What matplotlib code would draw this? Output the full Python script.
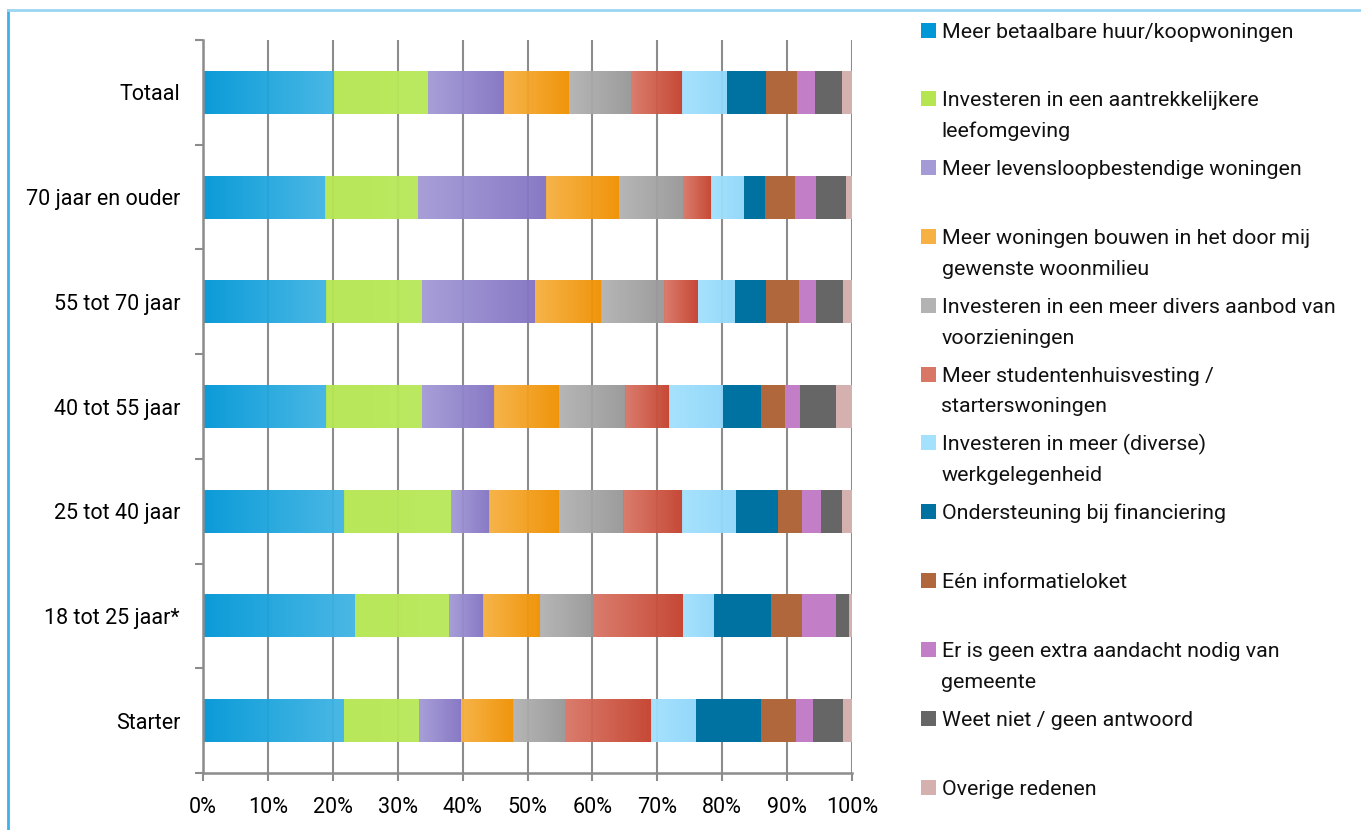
import numpy as np
import matplotlib
matplotlib.use("Agg")
import matplotlib.pyplot as plt
from matplotlib import font_manager
from matplotlib.colors import LinearSegmentedColormap
from matplotlib.lines import Line2D
from matplotlib.patches import Rectangle

categories = ["Totaal", "70 jaar en ouder", "55 tot 70 jaar", "40 tot 55 jaar",
              "25 tot 40 jaar", "18 tot 25 jaar*", "Starter"]

series_names = [
    "Meer betaalbare huur/koopwoningen",
    "Investeren in een aantrekkelijkere\nleefomgeving",
    "Meer levensloopbestendige woningen",
    "Meer woningen bouwen in het door mij\ngewenste woonmilieu",
    "Investeren in een meer divers aanbod van\nvoorzieningen",
    "Meer studentenhuisvesting /\nstarterswoningen",
    "Investeren in meer (diverse)\nwerkgelegenheid",
    "Ondersteuning bij financiering",
    "Eén informatieloket",
    "Er is geen extra aandacht nodig van\ngemeente",
    "Weet niet / geen antwoord",
    "Overige redenen",
]

# percentages per series, in the order of categories
betaalbaar = [20.2, 18.8, 19.0, 19.0, 21.8, 23.4, 21.7]
leefomgeving = [14.5, 14.3, 14.7, 14.7, 16.4, 14.5, 11.6]
levensloop = [11.7, 19.8, 17.4, 11.2, 5.9, 5.3, 6.4]
woonmilieu = [10.0, 11.2, 10.2, 9.9, 10.7, 8.8, 8.1]
voorzieningen = [9.5, 9.8, 9.8, 10.2, 9.9, 8.1, 8.0]
studenten = [7.9, 4.4, 5.2, 6.8, 9.1, 13.8, 13.3]
werkgelegenheid = [6.9, 5.0, 5.7, 8.4, 8.4, 4.9, 6.9]
financiering = [6.1, 3.3, 4.8, 5.8, 6.4, 8.7, 10.0]
informatieloket = [4.7, 4.6, 5.0, 3.7, 3.7, 4.8, 5.3]
geen_aandacht = [2.8, 3.2, 2.6, 2.3, 3.0, 5.2, 2.7]
weet_niet = [4.1, 4.7, 4.2, 5.5, 3.1, 2.0, 4.6]
overig = [1.6, 0.9, 1.4, 2.5, 1.6, 0.5, 1.4]

series = [betaalbaar, leefomgeving, levensloop, woonmilieu, voorzieningen, studenten,
          werkgelegenheid, financiering, informatieloket, geen_aandacht, weet_niet, overig]

# (left colour, right colour) of each segment; equal colours means a flat fill
colors = [
    ("#0097d7", "#42b5e4"),
    ("#b5e652", "#b8e85a"),
    ("#a49bd6", "#8373c3"),
    ("#f6b142", "#f09000"),
    ("#b3b3b3", "#989898"),
    ("#d97767", "#c4402c"),
    ("#a3e1fd", "#90d7fa"),
    ("#0072a1", "#0072a1"),
    ("#b1673c", "#b1673c"),
    ("#c37ec8", "#c37ec8"),
    ("#666666", "#666666"),
    ("#d4b1ae", "#d4b1ae"),
]

installed = {f.name for f in font_manager.fontManager.ttflist}
if "Liberation Sans Narrow" in installed:
    plt.rcParams["font.family"] = ["Liberation Sans Narrow", "DejaVu Sans"]
    axis_fs, legend_fs = 17, 15.5
else:
    plt.rcParams["font.family"] = ["Roboto", "DejaVu Sans"]
    axis_fs, legend_fs = 15.5, 15.4

W, H = 1361, 830
fig = plt.figure(figsize=(W / 100, H / 100), dpi=100)
ax = fig.add_axes([203 / W, 1 - 773 / H, 649 / W, 733 / H])

y = np.arange(len(categories))
left = np.zeros(len(categories))
bar_h = 0.41
for vals, (c0, c1) in zip(series, colors):
    vals = np.array(vals)
    flat = c0 == c1
    bars = ax.barh(y, vals, left=left, height=bar_h, color=c0 if flat else "none",
                   linewidth=0, zorder=3 if flat else 1.5)
    if not flat:
        cmap = LinearSegmentedColormap.from_list("g", [c0, c1])
        for b in bars:
            x0, y0 = b.get_x(), b.get_y()
            im = ax.imshow(np.linspace(0, 1, 256)[None, :], cmap=cmap, aspect="auto",
                           extent=(x0, x0 + b.get_width(), y0 + b.get_height(), y0),
                           alpha=0.96, zorder=1.5, interpolation="bilinear")
            im.set_clip_path(b)
    left += vals

ax.set_xlim(0, 100)
ax.set_ylim(len(categories) - 0.5, -0.5)
ax.set_xticks(np.arange(0, 101, 10))
ax.set_xticklabels([f"{v}%" for v in range(0, 101, 10)], fontsize=axis_fs)
ax.set_yticks(y)
ax.set_yticklabels(categories, fontsize=axis_fs)
ax.set_yticks(np.arange(-0.5, len(categories)), minor=True)
ax.tick_params(axis="y", which="major", length=0, pad=16.5)
ax.tick_params(axis="y", which="minor", length=6, width=1.5, color="#8c8c8c")
ax.tick_params(axis="x", length=6, width=1.5, color="#8c8c8c", pad=11)
ax.xaxis.grid(True, color="#8c8c8c", linewidth=1.5, zorder=1)
ax.set_axisbelow(True)
for side in ["top", "right"]:
    ax.spines[side].set_visible(False)
for side in ["left", "bottom"]:
    ax.spines[side].set_color("#8c8c8c")
    ax.spines[side].set_linewidth(1.8)

# legend: marker + wrapped label, entries on a fixed pitch
for i, (name, (c0, c1)) in enumerate(zip(series_names, colors)):
    base = 37.7 + 68.8 * i
    fig.add_artist(Rectangle((921 / W, 1 - base / H), 15 / W, 15 / H,
                             transform=fig.transFigure, facecolor=c0, edgecolor="none"))
    for k, line in enumerate(name.split("\n")):
        fig.text(941.5 / W, 1 - (base + 30.7 * k) / H, line, fontsize=legend_fs,
                 va="baseline", ha="left", color="#111111")

# light blue frame
fig.add_artist(Line2D([8 / W, 8 / W], [0, 1 - 10 / H], color="#3fb0e8", linewidth=2,
                      transform=fig.transFigure))
fig.add_artist(Line2D([8 / W, 1], [1 - 10 / H, 1 - 10 / H], color="#9ad6f3", linewidth=2,
                      transform=fig.transFigure))

fig.savefig("out.png", dpi=100)
